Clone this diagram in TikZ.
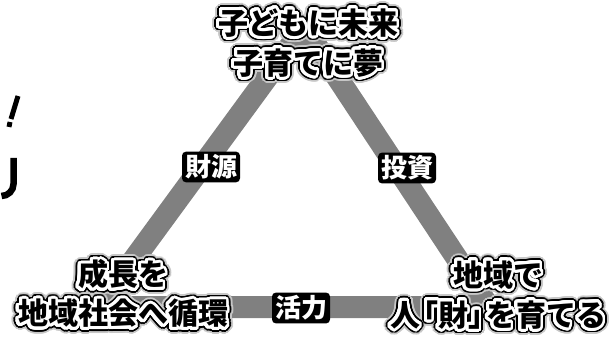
\documentclass[tikz,border=0pt]{standalone}
\usepackage{fontspec}
\usepackage[copies]{contour}
\usepackage{xcolor}
\usepackage{tikz}
\usetikzlibrary{positioning}

\newfontfamily\jpfont{Noto Sans CJK JP}
\contournumber{48}
% black text, white halo, black rim
\newcommand{\halotext}[1]{%
  \makebox[0pt][l]{\contourlength{6.5pt}\contour{black!22}{#1}}%
  \makebox[0pt][l]{\contourlength{4.6pt}\contour{black}{#1}}%
  \contourlength{2.9pt}\contour{white}{#1}}

\begin{document}
\begin{tikzpicture}[x=1pt, y=-1pt,
  band/.style={line width=22pt, black!50, line join=round},
  vertex/.style={align=center, inner sep=0pt,
    font=\jpfont\bfseries\fontsize{30}{39}\selectfont},
  edgelabel/.style={fill=black, text=white, rounded corners=4pt,
    inner xsep=3pt, inner ysep=3pt,
    font=\jpfont\bfseries\fontsize{26}{26}\selectfont}]
  \useasboundingbox (0,0) rectangle (612,344);

  % corners of the triangle
  \coordinate (apex) at (304,27);
  \coordinate (lcorner) at (99,307);
  \coordinate (rcorner) at (489,307);
  \draw[band] (apex) -- (lcorner) -- (rcorner) -- cycle;

  % labels on the sides
  \node[edgelabel] (fund) at (211,167) {財源};
  \node[edgelabel] (invest) at (407,168) {投資};
  \node[edgelabel] (vital) at (301,308) {活力};

  % texts at the corners
  \node[vertex, font=\jpfont\bfseries\fontsize{30}{40}\selectfont] (future) at (308,46)
    {\halotext{子どもに未来}\\\halotext{子育てに夢}};
  \node[vertex] (growth) at (123,297)
    {\halotext{成長を}\\\halotext{地域社会へ循環}};
  \node[vertex, font=\jpfont\bfseries\fontsize{30}{40}\selectfont] (talent) at (498,298)
    {\halotext{地域で}\\\halotext{人\kern-0.4em「財」\kern-0.4em を育てる}};

  % cut-off marks at the left edge
  \draw[line width=5pt] (18,96) -- (11,119);
  \draw[line width=5pt] (10,122) -- (9,127);
  \draw[line width=6.5pt] (13.5,158) -- (13.5,184) arc[start angle=0, end angle=90, radius=12];
\end{tikzpicture}
\end{document}
